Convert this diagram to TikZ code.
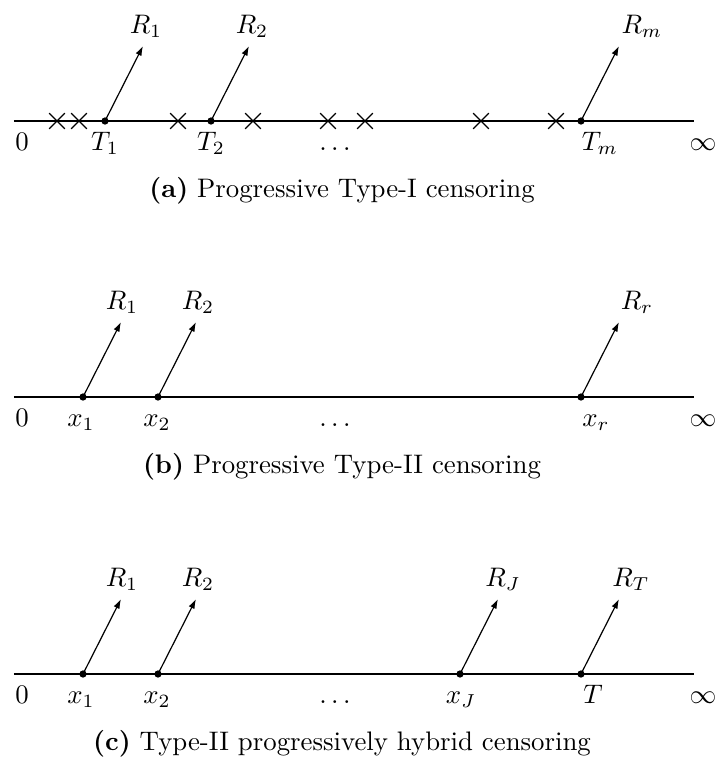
\documentclass[tikz,border=0pt]{standalone}
\usetikzlibrary{arrows.meta,shapes.misc,calc}
\begin{document}
\begin{tikzpicture}[x=0.3731pt,y=-0.3731pt,
  axisline/.style={line width=0.45pt},
  evt/.style={circle,fill,inner sep=0pt,minimum size=2.7pt},
  cens/.style={cross out,draw,inner sep=0pt,minimum size=5.4pt,line width=0.45pt},
  rem/.style={line width=0.45pt,-{Latex[length=3.6pt,width=2.4pt]}},
  lab/.style={anchor=base,inner sep=0pt},
  captext/.style={anchor=base,inner sep=0pt}]
\useasboundingbox (0,0) rectangle (717,757);

% ---------- panel (a) ----------
\coordinate (a0) at (14,121);
\coordinate (aend) at (694,121);
\draw[axisline] (a0) -- (aend);
\node[cens] (ac1) at (57,121) {};
\node[cens] (ac2) at (79,121) {};
\node[cens] (ac3) at (178,121) {};
\node[cens] (ac4) at (253,121) {};
\node[cens] (ac5) at (328,121) {};
\node[cens] (ac6) at (365,121) {};
\node[cens] (ac7) at (481,121) {};
\node[cens] (ac8) at (556,121) {};
\node[evt] (aT1) at (105,121) {};
\node[evt] (aT2) at (211,121) {};
\node[evt] (aTm) at (581,121) {};
\coordinate (aT1r) at (143,46);
\coordinate (aT2r) at (249,46);
\coordinate (aTmr) at (619,46);
\draw[rem] (aT1.center) -- (aT1r);
\draw[rem] (aT2.center) -- (aT2r);
\draw[rem] (aTm.center) -- (aTmr);
\node[lab] (aR1) at (146,33) {$R_1$};
\node[lab] (aR2) at (252,33) {$R_2$};
\node[lab] (aRm) at (642,33) {$R_m$};
\node[lab] (azero) at (22,150) {$0$};
\node[lab] (aT1l) at (105,150) {$T_1$};
\node[lab] (aT2l) at (211,150) {$T_2$};
\node[lab] (adots) at (335,150) {$\ldots$};
\node[lab] (aTml) at (600,150) {$T_m$};
\node[lab] (ainf) at (703,150) {$\infty$};
\node[captext] (acap) at (342,197) {\textbf{(a)} Progressive Type-I censoring};

% ---------- panel (b) ----------
\coordinate (b0) at (14,397);
\coordinate (bend) at (694,397);
\draw[axisline] (b0) -- (bend);
\node[evt] (bx1) at (83,397) {};
\node[evt] (bx2) at (158,397) {};
\node[evt] (bxr) at (581,397) {};
\coordinate (bx1r) at (121,322);
\coordinate (bx2r) at (196,322);
\coordinate (bxrr) at (619,322);
\draw[rem] (bx1.center) -- (bx1r);
\draw[rem] (bx2.center) -- (bx2r);
\draw[rem] (bxr.center) -- (bxrr);
\node[lab] (bR1) at (122,309) {$R_1$};
\node[lab] (bR2) at (198,309) {$R_2$};
\node[lab] (bRr) at (637,309) {$R_r$};
\node[lab] (bzero) at (22,426) {$0$};
\node[lab] (bx1l) at (81,426) {$x_1$};
\node[lab] (bx2l) at (157,426) {$x_2$};
\node[lab] (bdots) at (335,426) {$\ldots$};
\node[lab] (bxrl) at (596,426) {$x_r$};
\node[lab] (binf) at (703,426) {$\infty$};
\node[captext] (bcap) at (342,473) {\textbf{(b)} Progressive Type-II censoring};

% ---------- panel (c) ----------
\coordinate (c0) at (14,674);
\coordinate (cend) at (694,674);
\draw[axisline] (c0) -- (cend);
\node[evt] (cx1) at (83,674) {};
\node[evt] (cx2) at (158,674) {};
\node[evt] (cxJ) at (460,674) {};
\node[evt] (cT) at (581,674) {};
\coordinate (cx1r) at (121,599);
\coordinate (cx2r) at (196,599);
\coordinate (cxJr) at (498,599);
\coordinate (cTr) at (619,599);
\draw[rem] (cx1.center) -- (cx1r);
\draw[rem] (cx2.center) -- (cx2r);
\draw[rem] (cxJ.center) -- (cxJr);
\draw[rem] (cT.center) -- (cTr);
\node[lab] (cR1) at (122,586) {$R_1$};
\node[lab] (cR2) at (198,586) {$R_2$};
\node[lab] (cRJ) at (503,586) {$R_J$};
\node[lab] (cRT) at (631,586) {$R_T$};
\node[lab] (czero) at (22,703) {$0$};
\node[lab] (cx1l) at (81,703) {$x_1$};
\node[lab] (cx2l) at (157,703) {$x_2$};
\node[lab] (cdots) at (335,703) {$\ldots$};
\node[lab] (cxJl) at (461,703) {$x_J$};
\node[lab] (cTl) at (593,703) {$T$};
\node[lab] (cinf) at (703,703) {$\infty$};
\node[captext] (ccap) at (342,750) {\textbf{(c)} Type-II progressively hybrid censoring};
\end{tikzpicture}
\end{document}
